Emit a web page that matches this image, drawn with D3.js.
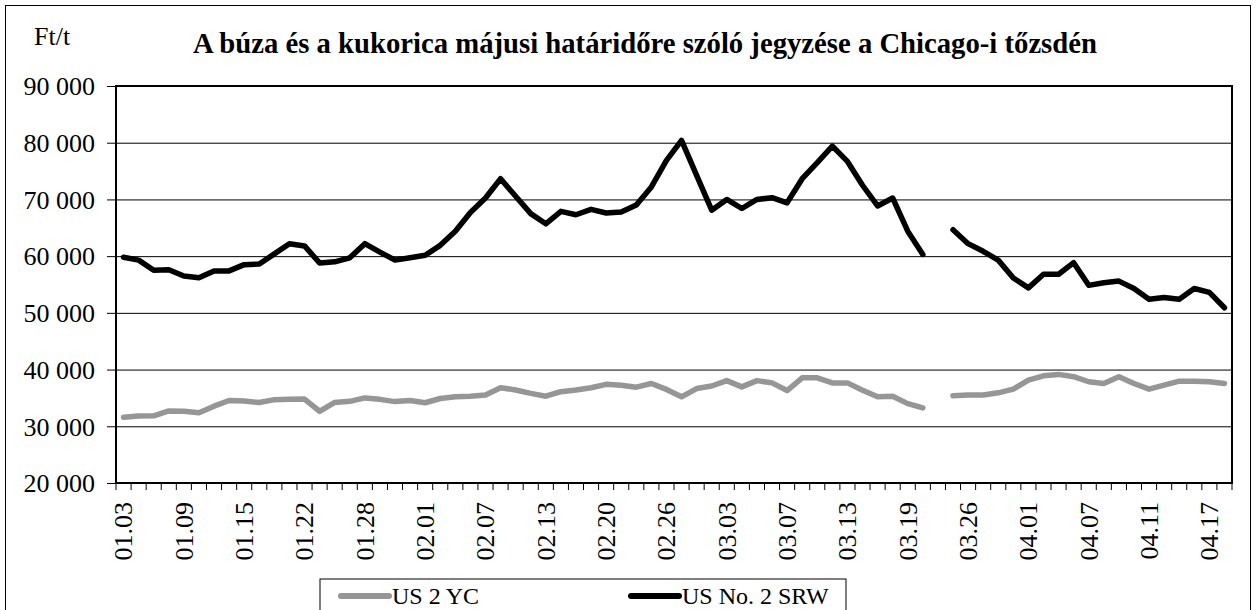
<!DOCTYPE html>
<html>
<head>
<meta charset="utf-8">
<script src="https://cdn.jsdelivr.net/npm/d3@7"></script>
<style>
	body { margin: 0; background: #fff; }
	svg text { font-family: 'Liberation Serif', 'Times New Roman', serif; fill: #000; }
</style>
</head>
<body>
<div id="chart"></div>
<script>
// trading days (Hungarian data: no quote on 03.24, Easter Monday)
const dates = [
	'01.03', '01.04', '01.07', '01.08', '01.09', '01.10', '01.11', '01.14', '01.15', '01.16',
	'01.17', '01.18', '01.22', '01.23', '01.24', '01.25', '01.28', '01.29', '01.30', '01.31',
	'02.01', '02.04', '02.05', '02.06', '02.07', '02.08', '02.11', '02.12', '02.13', '02.14',
	'02.15', '02.19', '02.20', '02.21', '02.22', '02.25', '02.26', '02.27', '02.28', '02.29',
	'03.03', '03.04', '03.05', '03.06', '03.07', '03.10', '03.11', '03.12', '03.13', '03.14',
	'03.17', '03.18', '03.19', '03.20', '03.24', '03.25', '03.26', '03.27', '03.28', '03.31',
	'04.01', '04.02', '04.03', '04.04', '04.07', '04.08', '04.09', '04.10', '04.11', '04.14',
	'04.15', '04.16', '04.17', '04.18'
];

const tickLabels = [
	'01.03', '01.09', '01.15', '01.22', '01.28', '02.01', '02.07', '02.13', '02.20', '02.26',
	'03.03', '03.07', '03.13', '03.19', '03.26', '04.01', '04.07', '04.11', '04.17'
];

// US 2 YC (corn), Ft/t
const yc = [
	31600, 31800, 31850, 32700, 32650, 32400, 33550, 34550, 34450, 34200,
	34700, 34750, 34800, 32650, 34200, 34400, 35000, 34750, 34350, 34550,
	34150, 34900, 35200, 35300, 35500, 36800, 36400, 35800, 35300, 36100,
	36400, 36800, 37400, 37250, 36900, 37550, 36500, 35200, 36650, 37100,
	38050, 36950, 38050, 37650, 36300, 38550, 38550, 37650, 37650, 36350,
	35200, 35300, 34000, 33250, null, 35400, 35500, 35500, 35900, 36550,
	38150, 38900, 39150, 38750, 37850, 37550, 38750, 37550, 36550, 37250,
	37950, 37950, 37850, 37550
];

// US No. 2 SRW (wheat), Ft/t
const srw = [
	59800, 59300, 57500, 57600, 56500, 56200, 57400, 57400, 58500, 58600,
	60400, 62200, 61800, 58800, 59000, 59700, 62200, 60700, 59300, 59700,
	60150, 61900, 64400, 67700, 70250, 73650, 70550, 67500, 65700, 67900,
	67300, 68250, 67600, 67800, 69000, 72200, 76900, 80400, 74250, 68100,
	70000, 68400, 70000, 70300, 69400, 73650, 76500, 79400, 76700, 72500,
	68850, 70250, 64400, 60300, null, 64650, 62200, 60850, 59300, 56150,
	54400, 56800, 56800, 58850, 54850, 55300, 55600, 54300, 52400, 52700,
	52400, 54300, 53600, 50900
];

const yTicks = [20000, 30000, 40000, 50000, 60000, 70000, 80000, 90000];

const seriesNames = ['US 2 YC', 'US No. 2 SRW'];
const seriesColors = ['#969696', '#000000'];

const W = 1257;
const H = 610;
const plot = { left: 116, right: 1232, top: 86, bottom: 483 };

const svg = d3.select('#chart').append('svg').attr('width', W).attr('height', H);

// outer chart frame
svg
	.append('rect')
	.attr('x', 5.5)
	.attr('y', 5.5)
	.attr('width', 1245)
	.attr('height', 640)
	.attr('fill', 'none')
	.attr('stroke', '#000')
	.attr('stroke-width', 1);

const x = d3.scaleBand().domain(dates).range([plot.left, plot.right]);
const y = d3.scaleLinear().domain([20000, 90000]).range([plot.bottom, plot.top]);
const fmt = (d) => d3.format(',')(d).replace(/,/g, ' ');

// horizontal grid
svg
	.append('g')
	.attr('transform', `translate(${plot.left},0)`)
	.call(d3.axisLeft(y).tickValues(yTicks).tickSize(-(plot.right - plot.left)).tickFormat(''))
	.call((g) => g.select('.domain').remove())
	.selectAll('line')
	.attr('stroke', '#000')
	.attr('stroke-width', 1);

// y axis
const yAxis = svg
	.append('g')
	.attr('transform', `translate(${plot.left},0)`)
	.call(d3.axisLeft(y).tickValues(yTicks).tickSize(9).tickPadding(12).tickFormat(fmt));
yAxis.select('.domain').remove();
yAxis.selectAll('line').attr('stroke', '#000');
yAxis.selectAll('text').attr('font-size', 26).attr('dy', '0.34em');

// x axis: ticks between categories
const xAxis = svg.append('g').attr('transform', `translate(0,${plot.bottom})`);
const boundaries = d3.range(dates.length + 1).map((i) => plot.left + i * x.step());
xAxis
	.selectAll('line')
	.data(boundaries)
	.join('line')
	.attr('x1', (d) => d)
	.attr('x2', (d) => d)
	.attr('y1', 0)
	.attr('y2', 7)
	.attr('stroke', '#000');

xAxis
	.selectAll('text')
	.data(tickLabels)
	.join('text')
	.attr('transform', (d) => `translate(${x(d) + x.bandwidth() / 2},19) rotate(-90)`)
	.attr('text-anchor', 'end')
	.attr('dy', '0.34em')
	.attr('font-size', 26)
	.text((d) => d);

// plot border
svg
	.append('rect')
	.attr('x', plot.left)
	.attr('y', plot.top)
	.attr('width', plot.right - plot.left)
	.attr('height', plot.bottom - plot.top)
	.attr('fill', 'none')
	.attr('stroke', '#000')
	.attr('stroke-width', 2);

// series
const line = d3
	.line()
	.defined((d) => d != null)
	.x((d, i) => x(dates[i]) + x.bandwidth() / 2)
	.y((d) => y(d));

[yc, srw].forEach((s, k) => {
	svg
		.append('path')
		.datum(s)
		.attr('d', line)
		.attr('fill', 'none')
		.attr('stroke', seriesColors[k])
		.attr('stroke-width', 5.5)
		.attr('stroke-linejoin', 'round')
		.attr('stroke-linecap', 'round');
});

// title and unit
const title = svg
	.append('text')
	.attr('x', 645)
	.attr('y', 53)
	.attr('text-anchor', 'middle')
	.attr('font-size', 24)
	.attr('font-weight', 'bold')
	.text('A búza és a kukorica májusi határidőre szóló jegyzése a Chicago-i tőzsdén');
const tw = title.node().getComputedTextLength();
title.attr('font-size', 24 * 904 / tw);

svg.append('text').attr('x', 34).attr('y', 45).attr('font-size', 26).text('Ft/t');

// legend
const legend = svg.append('g').attr('transform', 'translate(320,579)');
legend
	.append('rect')
	.attr('width', 526)
	.attr('height', 60)
	.attr('fill', '#fff')
	.attr('stroke', '#000')
	.attr('stroke-width', 1);

const legendX = [21, 311];
seriesNames.forEach((name, k) => {
	const g = legend.append('g').attr('transform', `translate(${legendX[k]},17)`);
	g.append('line')
		.attr('x1', 0)
		.attr('x2', 48)
		.attr('stroke', seriesColors[k])
		.attr('stroke-width', 6)
		.attr('stroke-linecap', 'round');
	g.append('text').attr('x', 51).attr('dy', '0.34em').attr('font-size', 24).text(name);
});
</script>
</body>
</html>
